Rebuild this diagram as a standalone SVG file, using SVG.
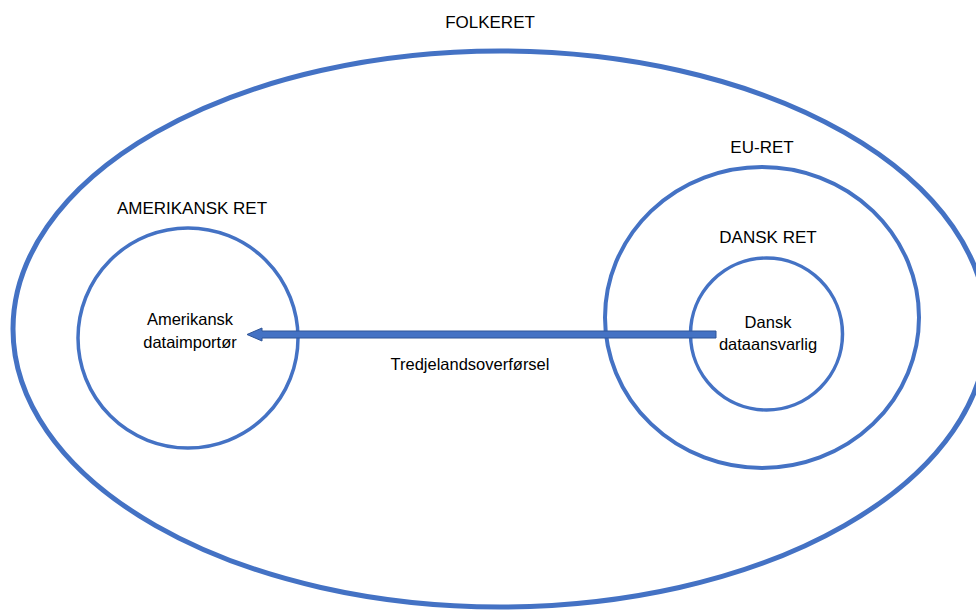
<svg xmlns="http://www.w3.org/2000/svg" width="976" height="610" viewBox="0 0 976 610">
<style>
.ring{fill:none;stroke:#4472C4}
.t{font-family:"Liberation Sans",Arial,sans-serif;fill:#000;text-anchor:middle}
.big{font-size:17px}
.mid{font-size:16.5px}
.small{font-size:16.5px}
</style>
<rect width="976" height="610" fill="#fff"/>
<g id="folkeret">
<ellipse class="ring" cx="500" cy="329" rx="487" ry="278" stroke-width="5"/>
<text class="t big" x="490" y="28">FOLKERET</text>
</g>
<g id="amerikansk-ret">
<circle class="ring" cx="188" cy="338" r="110" stroke-width="3.5"/>
<text class="t big" x="192" y="214">AMERIKANSK RET</text>
</g>
<g id="amerikansk-dataimportor">
<text class="t mid" x="190" y="325">Amerikansk</text>
<text class="t mid" x="190" y="348">dataimportør</text>
</g>
<g id="eu-ret">
<ellipse class="ring" cx="762" cy="317.5" rx="157" ry="150.5" stroke-width="4"/>
<text class="t big" x="762" y="153">EU-RET</text>
</g>
<g id="dansk-ret">
<circle class="ring" cx="766.5" cy="334" r="76" stroke-width="3.5"/>
<text class="t big" x="768" y="243">DANSK RET</text>
</g>
<g id="dansk-dataansvarlig">
<text class="t mid" x="768" y="328">Dansk</text>
<text class="t mid" x="768" y="350">dataansvarlig</text>
</g>
<g id="connectors">
<path d="M716 331 L262 331 L262 328 L247 334.5 L262 341 L262 338 L716 338 Z" fill="#4472C4" stroke="#2F5597" stroke-width="1"/>
<text class="t small" x="470" y="370">Tredjelandsoverførsel</text>
</g>
</svg>
